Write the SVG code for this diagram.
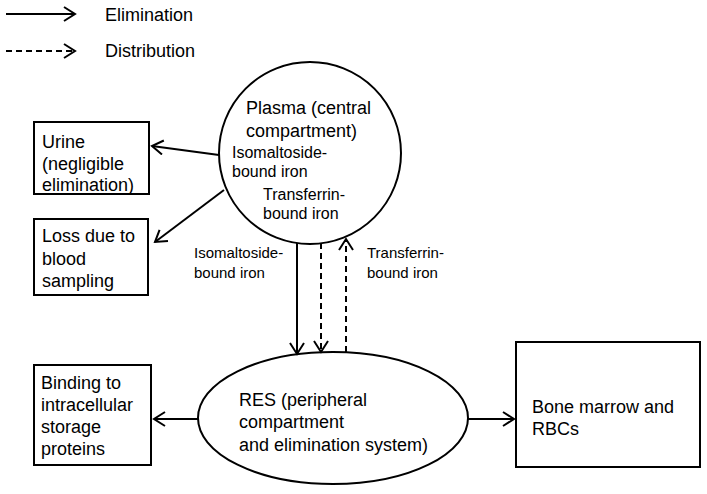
<svg xmlns="http://www.w3.org/2000/svg" width="707" height="494" viewBox="0 0 707 494">
<style>
text{font-family:"Liberation Sans",Arial,sans-serif;fill:#000}
.t{font-size:18px}
.m{font-size:16px}
.s{font-size:15px}
.shape{fill:#fff;stroke:#000;stroke-width:2}
.line{fill:none;stroke:#000;stroke-width:2}
.dash{stroke-dasharray:6,4}
</style>
<defs>
<marker id="ah" markerUnits="userSpaceOnUse" markerWidth="16" markerHeight="16" viewBox="0 0 16 16" refX="14" refY="8" orient="auto">
<path d="M3,1 L14,8 L3,15" fill="none" stroke="#000" stroke-width="2"/>
</marker>
</defs>
<g id="legend">
<line class="line" x1="6" y1="14" x2="75" y2="14" marker-end="url(#ah)"/>
<text class="t" x="105" y="21">Elimination</text>
<line class="line dash" x1="6" y1="51" x2="75" y2="51" marker-end="url(#ah)"/>
<text class="t" x="105" y="57">Distribution</text>
</g>
<g id="plasma">
<circle class="shape" cx="310" cy="153" r="91"/>
<text class="t" x="246" y="114">Plasma (central</text>
<text class="t" x="246" y="137">compartment)</text>
<text class="m" x="232" y="158">Isomaltoside-</text>
<text class="m" x="232" y="177">bound iron</text>
<text class="m" x="263" y="200">Transferrin-</text>
<text class="m" x="263" y="219">bound iron</text>
</g>
<g id="urine">
<rect class="shape" x="34" y="122" width="115" height="72"/>
<text class="t" x="42" y="148">Urine</text>
<text class="t" x="42" y="170">(negligible</text>
<text class="t" x="42" y="191">elimination)</text>
</g>
<g id="loss">
<rect class="shape" x="34" y="219" width="114" height="76"/>
<text class="t" x="42" y="242">Loss due to</text>
<text class="t" x="42" y="265">blood</text>
<text class="t" x="42" y="287">sampling</text>
</g>
<g id="binding">
<rect class="shape" x="34" y="365" width="117" height="100"/>
<text class="t" x="41" y="389">Binding to</text>
<text class="t" x="41" y="411">intracellular</text>
<text class="t" x="41" y="433">storage</text>
<text class="t" x="41" y="455">proteins</text>
</g>
<g id="res">
<ellipse class="shape" cx="333" cy="418" rx="135" ry="66"/>
<text class="t" x="239" y="406">RES (peripheral</text>
<text class="t" x="239" y="428">compartment</text>
<text class="t" x="239" y="451">and elimination system)</text>
</g>
<g id="bone">
<rect class="shape" x="516" y="342" width="184" height="125"/>
<text class="t" x="532" y="413">Bone marrow and</text>
<text class="t" x="532" y="435">RBCs</text>
</g>
<g id="connectors">
<line class="line" x1="219" y1="155" x2="152" y2="146" marker-end="url(#ah)"/>
<line class="line" x1="224" y1="190" x2="155" y2="242" marker-end="url(#ah)"/>
<line class="line" x1="297" y1="243" x2="297" y2="354" marker-end="url(#ah)"/>
<line class="line dash" x1="321" y1="243" x2="321" y2="352" marker-end="url(#ah)"/>
<line class="line dash" x1="346" y1="352" x2="346" y2="239" marker-end="url(#ah)"/>
<line class="line" x1="198" y1="419" x2="154" y2="419" marker-end="url(#ah)"/>
<line class="line" x1="468" y1="419" x2="514" y2="419" marker-end="url(#ah)"/>
<text class="s" x="194" y="258">Isomaltoside-</text>
<text class="s" x="194" y="278">bound iron</text>
<text class="s" x="367" y="258">Transferrin-</text>
<text class="s" x="367" y="278">bound iron</text>
</g>
</svg>
